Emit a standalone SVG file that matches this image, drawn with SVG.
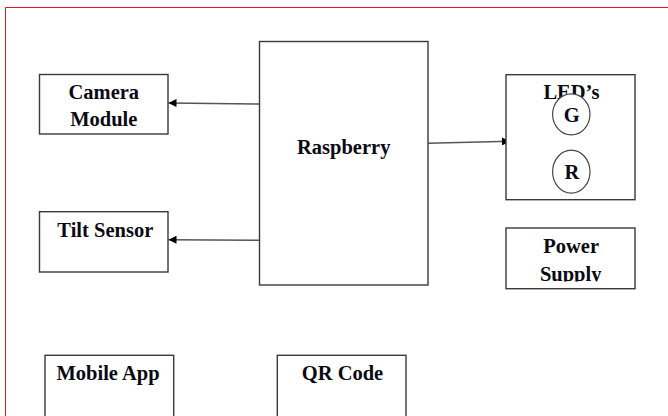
<svg xmlns="http://www.w3.org/2000/svg" width="668" height="416" viewBox="0 0 668 416">
<defs>
<style>
.box{fill:#fff;stroke:#3a3a3a;stroke-width:1.4}
.led{fill:#fff;stroke:#444;stroke-width:1.2}
.t{font-family:"Liberation Serif","Times New Roman",serif;font-weight:bold;font-size:20.5px;fill:#0a0a14;text-anchor:middle}
.c{stroke:#555;stroke-width:1.4;fill:none;marker-end:url(#ah)}
</style>
<marker id="ah" viewBox="0 0 10 10" refX="10" refY="5" markerWidth="9" markerHeight="8" markerUnits="userSpaceOnUse" orient="auto">
<path d="M0,0 L10,5 L0,10 z" fill="#000"/>
</marker>
<clipPath id="clipSupply"><rect x="500" y="220" width="140" height="61.5"/></clipPath>
</defs>
<rect width="668" height="416" fill="#fff"/>
<path d="M5.5,420 V7.5 H670" fill="none" stroke="#e8141c" stroke-width="1"/>
<g id="connectors">
<line class="c" x1="259.5" y1="104" x2="168.5" y2="103"/>
<line class="c" x1="259.5" y1="240.3" x2="168.5" y2="239.7"/>
<line class="c" x1="428" y1="143.3" x2="510" y2="141.3"/>
</g>
<g id="camera">
<rect class="box" x="39.5" y="74.5" width="128.5" height="59.5"/>
<text class="t" x="103.8" y="99">Camera</text>
<text class="t" x="103.8" y="126">Module</text>
</g>
<g id="raspberry">
<rect class="box" x="259.5" y="41.5" width="168.5" height="243.5"/>
<text class="t" x="343.7" y="154">Raspberry</text>
</g>
<g id="tilt">
<rect class="box" x="39.5" y="211.7" width="128.5" height="60.3"/>
<text class="t" x="105.3" y="237">Tilt Sensor</text>
</g>
<g id="leds">
<rect class="box" x="506" y="74.7" width="129" height="125"/>
<text class="t" x="571.5" y="99">LED’s</text>
<ellipse class="led" cx="571.3" cy="114.3" rx="18.7" ry="20.5"/>
<text class="t" x="571.8" y="122">G</text>
<ellipse class="led" cx="571.3" cy="171.7" rx="18.7" ry="21.5"/>
<text class="t" x="571.8" y="179">R</text>
</g>
<g id="power">
<rect class="box" x="506" y="228" width="129" height="60.7"/>
<text class="t" x="571.2" y="253">Power</text>
<text class="t" x="570.7" y="280.5" clip-path="url(#clipSupply)">Supply</text>
</g>
<g id="mobile">
<rect class="box" x="45" y="355.3" width="128.7" height="70"/>
<text class="t" x="108" y="379.7">Mobile App</text>
</g>
<g id="qr">
<rect class="box" x="277.3" y="355.3" width="128.7" height="70"/>
<text class="t" x="342.5" y="380">QR Code</text>
</g>
</svg>
